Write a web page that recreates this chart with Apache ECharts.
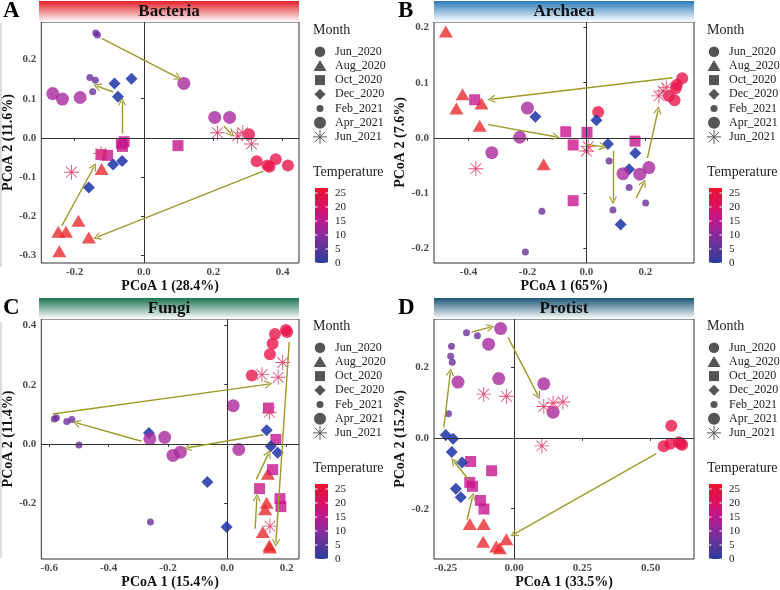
<!DOCTYPE html>
<html>
<head>
<meta charset="utf-8">
<script src="https://cdn.jsdelivr.net/npm/echarts@6/dist/echarts.min.js"></script>
<style>
  html, body { margin: 0; padding: 0; background: #fff; }
  #chart { width: 780px; height: 590px; }
</style>
</head>
<body>
<div id="chart"></div>
<script>
// 月份（图例）和温度色标
var months = ['Jun_2020', 'Aug_2020', 'Oct_2020', 'Dec_2020', 'Feb_2021', 'Apr_2021', 'Jun_2021'];
var tempTicks = [0, 5, 10, 15, 20, 25];

// 点: [PCoA1, PCoA2, 月份序号]
var bacteriaPts = [
    [0.303, 0.009, 0], [0.325, -0.060, 0], [0.356, -0.071, 0], [0.362, -0.074, 0], [0.380, -0.055, 0], [0.415, -0.071, 0],
    [-0.122, -0.080, 1], [-0.189, -0.212, 1], [-0.225, -0.240, 1], [-0.247, -0.240, 1], [-0.159, -0.255, 1], [-0.244, -0.290, 1],
    [-0.065, -0.015, 2], [-0.057, -0.010, 2], [-0.062, -0.022, 2], [-0.124, -0.043, 2], [-0.105, -0.045, 2], [0.098, -0.020, 2],
    [-0.085, 0.139, 3], [-0.036, 0.151, 3], [-0.075, 0.105, 3], [-0.089, -0.068, 3], [-0.063, -0.059, 3], [-0.159, -0.127, 3],
    [-0.139, 0.268, 4], [-0.134, 0.263, 4], [-0.156, 0.154, 4], [-0.140, 0.147, 4], [-0.148, 0.118, 4],
    [-0.263, 0.113, 5], [-0.235, 0.099, 5], [-0.184, 0.103, 5], [0.115, 0.139, 5], [0.204, 0.052, 5], [0.247, 0.052, 5],
    [0.212, 0.013, 6], [0.270, 0.005, 6], [0.285, 0.013, 6], [0.310, -0.016, 6], [-0.124, -0.040, 6], [-0.209, -0.088, 6]
];
var archaeaPts = [
    [0.040, 0.047, 0], [0.325, 0.108, 0], [0.307, 0.096, 0], [0.303, 0.090, 0], [0.280, 0.076, 0], [0.299, 0.068, 0],
    [-0.477, 0.193, 1], [-0.420, 0.079, 1], [-0.441, 0.053, 1], [-0.356, 0.062, 1], [-0.362, 0.022, 1], [-0.145, -0.048, 1],
    [-0.379, 0.069, 2], [-0.070, 0.011, 2], [0.002, 0.010, 2], [-0.045, -0.013, 2], [0.165, -0.006, 2], [-0.045, -0.114, 2],
    [-0.173, 0.038, 3], [0.034, 0.032, 3], [0.073, -0.011, 3], [0.166, -0.028, 3], [0.145, -0.057, 3], [0.116, -0.157, 3],
    [0.077, -0.042, 4], [0.145, -0.090, 4], [0.201, -0.118, 4], [0.090, -0.131, 4], [-0.151, -0.133, 4], [-0.207, -0.207, 4],
    [-0.200, 0.054, 5], [-0.226, 0.001, 5], [-0.321, -0.027, 5], [0.124, -0.065, 5], [0.181, -0.066, 5], [0.212, -0.054, 5],
    [-0.375, -0.056, 6], [0.000, -0.024, 6], [0.006, -0.016, 6], [0.246, 0.076, 6], [0.260, 0.085, 6], [0.271, 0.091, 6]
];
var fungiPts = [
    [0.083, 0.231, 0], [0.144, 0.303, 0], [0.153, 0.338, 0], [0.161, 0.371, 0], [0.198, 0.385, 0], [0.202, 0.378, 0],
    [0.137, -0.101, 1], [0.133, -0.199, 1], [0.128, -0.221, 1], [0.120, -0.298, 1], [0.142, -0.343, 1], [0.144, -0.350, 1],
    [0.139, 0.121, 2], [0.164, 0.015, 2], [0.153, -0.087, 2], [0.109, -0.151, 2], [0.178, -0.185, 2], [0.181, -0.212, 2],
    [-0.264, 0.037, 3], [0.133, 0.046, 3], [0.147, -0.008, 3], [0.170, -0.030, 3], [-0.067, -0.129, 3], [-0.002, -0.281, 3],
    [-0.583, 0.084, 4], [-0.576, 0.088, 4], [-0.541, 0.076, 4], [-0.524, 0.082, 4], [-0.500, -0.004, 4], [-0.259, -0.264, 4],
    [-0.261, 0.017, 5], [-0.211, 0.022, 5], [-0.183, -0.039, 5], [-0.158, -0.028, 5], [0.020, 0.129, 5], [0.039, -0.019, 5],
    [0.117, 0.234, 6], [0.172, 0.225, 6], [0.187, 0.275, 6], [0.142, 0.107, 6], [0.144, -0.278, 6]
];
var protistPts = [
    [0.576, 0.034, 0], [0.548, -0.024, 0], [0.572, -0.017, 0], [0.604, -0.013, 0], [0.610, -0.017, 0], [0.616, -0.020, 0],
    [-0.162, -0.243, 1], [-0.111, -0.243, 1], [-0.113, -0.293, 1], [-0.065, -0.307, 1], [-0.052, -0.312, 1], [-0.028, -0.286, 1],
    [-0.159, -0.067, 2], [-0.082, -0.093, 2], [-0.162, -0.126, 2], [-0.152, -0.137, 2], [-0.123, -0.177, 2], [-0.110, -0.201, 2],
    [-0.250, 0.008, 3], [-0.223, -0.003, 3], [-0.228, -0.040, 3], [-0.190, -0.070, 3], [-0.213, -0.144, 3], [-0.195, -0.168, 3],
    [-0.174, 0.296, 4], [-0.134, 0.288, 4], [-0.229, 0.258, 4], [-0.232, 0.230, 4], [-0.226, 0.213, 4], [-0.240, 0.068, 4],
    [-0.049, 0.308, 5], [-0.093, 0.264, 5], [-0.205, 0.157, 5], [-0.056, 0.167, 5], [0.109, 0.152, 5], [0.143, 0.072, 5],
    [-0.111, 0.123, 6], [-0.028, 0.117, 6], [0.109, 0.088, 6], [0.143, 0.098, 6], [0.179, 0.101, 6], [0.102, -0.023, 6]
];

// 箭头: [x1, y1, x2, y2]
var bacteriaArrows = [
    [-0.122, 0.254, 0.098, 0.154], [0.230, 0.030, 0.251, 0.011], [0.344, -0.085, -0.135, -0.254],
    [-0.237, -0.225, -0.144, -0.074], [-0.063, 0.011, -0.063, 0.092], [-0.089, 0.117, -0.135, 0.132]
];
var archaeaArrows = [
    [0.292, 0.109, -0.322, 0.070], [-0.333, 0.024, -0.104, 0.002], [0.000, -0.012, 0.056, -0.016],
    [0.090, -0.024, 0.090, -0.113], [0.169, -0.109, 0.194, -0.082], [0.207, -0.037, 0.243, 0.050]
];
var fungiArrows = [
    [-0.589, 0.101, 0.139, 0.202], [-0.289, 0.009, -0.508, 0.071], [0.122, 0.031, -0.133, -0.013],
    [0.209, 0.344, 0.164, -0.334], [0.098, -0.120, 0.139, -0.033], [0.094, -0.287, 0.100, -0.182]
];
var protistArrows = [
    [-0.257, 0.029, -0.233, 0.185], [-0.156, 0.298, -0.087, 0.312], [-0.022, 0.283, 0.088, 0.119],
    [0.521, -0.045, 0.000, -0.272], [-0.172, -0.232, -0.152, -0.166], [-0.165, -0.119, -0.220, -0.067]
];

// 刻度
var bacteriaXTicks = [-0.2, 0, 0.2, 0.4], bacteriaYTicks = [-0.3, -0.2, -0.1, 0, 0.1, 0.2];
var archaeaXTicks = [-0.4, -0.2, 0, 0.2], archaeaYTicks = [-0.2, -0.1, 0, 0.1, 0.2];
var fungiXTicks = [-0.6, -0.4, -0.2, 0, 0.2], fungiYTicks = [-0.2, 0, 0.2, 0.4];
var protistXTicks = [-0.25, 0, 0.25, 0.5], protistYTicks = [-0.2, 0, 0.2];

var FONT = 'Liberation Serif';
var monthColors = ['#e8174c', '#e82a2e', '#c8168f', '#2238a8', '#6a2f9a', '#a82a9e', '#e0406a'];
var asterisk = 'path://M9.4,0 L10.6,0 L10.6,20 L9.4,20 Z M0,9.4 L20,9.4 L20,10.6 L0,10.6 Z ' +
    'M2.48,3.32 L3.32,2.48 L17.52,16.68 L16.68,17.52 Z M16.68,2.48 L17.52,3.32 L3.32,17.52 L2.48,16.68 Z';
var monthSymbols = ['circle', 'triangle', 'rect', 'diamond', 'circle', 'circle', asterisk];
var monthSizes = [12, [14, 12], 11, 12, 7, 13, 15];
var chevron = 'path://M5,0 L10,9 L8.8,9.8 L5,2.8 L1.2,9.8 L0,9 Z';

var panels = [
    { title: 'Bacteria', letter: 'A', pts: bacteriaPts, arrows: bacteriaArrows, xt: bacteriaXTicks, yt: bacteriaYTicks,
      xName: 'PCoA 1 (28.4%)', yName: 'PCoA 2 (11.6%)', dec: 1,
      grid: { left: 39, top: 22, width: 260, height: 241 }, xr: [-0.296, 0.447], yr: [-0.320, 0.296],
      strip: ['#e21f27', '#ffffff'], legend: [313, 30] },
    { title: 'Archaea', letter: 'B', pts: archaeaPts, arrows: archaeaArrows, xt: archaeaXTicks, yt: archaeaYTicks,
      xName: 'PCoA 1 (65%)', yName: 'PCoA 2 (7.6%)', dec: 1,
      grid: { left: 434, top: 22, width: 260, height: 241 }, xr: [-0.517, 0.365], yr: [-0.227, 0.210],
      strip: ['#2a7bb9', '#ffffff'], legend: [707, 30] },
    { title: 'Fungi', letter: 'C', pts: fungiPts, arrows: fungiArrows, xt: fungiXTicks, yt: fungiYTicks,
      xName: 'PCoA 1 (15.4%)', yName: 'PCoA 2 (11.4%)', dec: 1,
      grid: { left: 39, top: 319, width: 260, height: 240 }, xr: [-0.627, 0.242], yr: [-0.389, 0.422],
      strip: ['#1d7352', '#ffffff'], legend: [313, 326] },
    { title: 'Protist', letter: 'D', pts: protistPts, arrows: protistArrows, xt: protistXTicks, yt: protistYTicks,
      xName: 'PCoA 1 (33.5%)', yName: 'PCoA 2 (15.2%)', dec: 2,
      grid: { left: 434, top: 319, width: 260, height: 240 }, xr: [-0.293, 0.659], yr: [-0.342, 0.335],
      strip: ['#1c5776', '#ffffff'], legend: [707, 326] }
];

var grids = [], xAxes = [], yAxes = [], series = [], graphics = [];

function labelStyle(dec) {
    return {
        fontFamily: FONT, fontWeight: 'bold', fontSize: 11, color: '#4d4d4d',
        formatter: function (v) { return v.toFixed(dec); }
    };
}

// 图例 (Month + Temperature)
function legendGraphics(left, top) {
    var gray = '#555';
    var els = [];
    els.push({ type: 'text', x: left, y: top, style: { text: 'Month', font: '14px "' + FONT + '"', fill: '#222', textVerticalAlign: 'middle' } });
    months.forEach(function (m, i) {
        var cx = left + 7, cy = top + 21.7 + i * 14.2;
        if (i === 0) els.push({ type: 'circle', shape: { cx: cx, cy: cy, r: 5.3 }, style: { fill: gray } });
        if (i === 1) els.push({ type: 'polygon', shape: { points: [[cx, cy - 6], [cx + 6.5, cy + 5], [cx - 6.5, cy + 5]] }, style: { fill: gray } });
        if (i === 2) els.push({ type: 'rect', shape: { x: cx - 5, y: cy - 5, width: 10, height: 10 }, style: { fill: gray } });
        if (i === 3) els.push({ type: 'polygon', shape: { points: [[cx, cy - 5.5], [cx + 5.5, cy], [cx, cy + 5.5], [cx - 5.5, cy]] }, style: { fill: gray } });
        if (i === 4) els.push({ type: 'circle', shape: { cx: cx, cy: cy, r: 3.5 }, style: { fill: gray } });
        if (i === 5) els.push({ type: 'circle', shape: { cx: cx, cy: cy, r: 6 }, style: { fill: gray } });
        if (i === 6) {
            [[7, 0], [0, 7], [5, 5], [5, -5]].forEach(function (d) {
                els.push({ type: 'line', shape: { x1: cx - d[0], y1: cy - d[1], x2: cx + d[0], y2: cy + d[1] }, style: { stroke: gray, lineWidth: 1 } });
            });
        }
        els.push({ type: 'text', x: left + 22, y: cy, style: { text: m, font: '12px "' + FONT + '"', fill: '#222', textVerticalAlign: 'middle' } });
    });
    els.push({ type: 'text', x: left, y: top + 142, style: { text: 'Temperature', font: '14px "' + FONT + '"', fill: '#222', textVerticalAlign: 'middle' } });
    var bx = left + 2, bw = 13, bBottom = top + 233, bTop = top + 158;
    els.push({
        type: 'rect', shape: { x: bx, y: bTop, width: bw, height: bBottom - bTop },
        style: {
            fill: new echarts.graphic.LinearGradient(0, 1, 0, 0, [
                { offset: 0, color: '#2b3d9d' }, { offset: 0.19, color: '#5a3598' },
                { offset: 0.38, color: '#8a2a9a' }, { offset: 0.56, color: '#bb1a8e' },
                { offset: 0.75, color: '#dd1064' }, { offset: 1, color: '#e8132c' }
            ])
        }
    });
    tempTicks.forEach(function (t) {
        var ty = bBottom - t * 2.8;
        els.push({ type: 'line', shape: { x1: bx, y1: ty, x2: bx + 2.5, y2: ty }, style: { stroke: '#fff', lineWidth: 1 } });
        els.push({ type: 'line', shape: { x1: bx + bw - 2.5, y1: ty, x2: bx + bw, y2: ty }, style: { stroke: '#fff', lineWidth: 1 } });
        els.push({ type: 'text', x: left + 22, y: ty, style: { text: String(t), font: '11px "' + FONT + '"', fill: '#222', textVerticalAlign: 'middle' } });
    });
    return els;
}

panels.forEach(function (p, i) {
    grids.push({ left: p.grid.left, top: p.grid.top, width: p.grid.width, height: p.grid.height,
        show: true, borderColor: '#333', borderWidth: 1, backgroundColor: 'transparent' });
    xAxes.push({
        gridIndex: i, type: 'value', min: p.xr[0], max: p.xr[1],
        splitLine: { show: false },
        axisLine: { show: false },
        axisTick: { show: true, length: 3, customValues: p.xt, lineStyle: { color: '#333' } },
        axisLabel: Object.assign({ customValues: p.xt, margin: 4 }, labelStyle(p.dec)),
        name: p.xName, nameLocation: 'middle', nameGap: 13,
        nameTextStyle: { fontFamily: FONT, fontWeight: 'bold', fontSize: 14, color: '#111' }
    });
    yAxes.push({
        gridIndex: i, type: 'value', min: p.yr[0], max: p.yr[1],
        splitLine: { show: false },
        axisLine: { show: false },
        axisTick: { show: true, length: 3, customValues: p.yt, lineStyle: { color: '#333' } },
        axisLabel: Object.assign({ customValues: p.yt, margin: 5 }, labelStyle(1)),
        name: p.yName, nameLocation: 'middle', nameGap: 21,
        nameTextStyle: { fontFamily: FONT, fontWeight: 'bold', fontSize: 14, color: '#111' }
    });

    months.forEach(function (m, k) {
        var s = {
            name: m, type: 'scatter', xAxisIndex: i, yAxisIndex: i,
            symbol: monthSymbols[k], symbolSize: monthSizes[k],
            itemStyle: { color: monthColors[k], opacity: k === 6 ? 0.9 : (k === 3 ? 0.88 : 0.8) },
            emphasis: { disabled: true },
            data: p.pts.filter(function (d) { return d[2] === k; }).map(function (d) { return [d[0], d[1]]; })
        };
        if (k === 0) {
            // 零线
            s.markLine = {
                silent: true, symbol: ['none', 'none'], label: { show: false },
                lineStyle: { color: '#333', width: 1, type: 'solid' },
                data: [{ xAxis: 0 }, { yAxis: 0 }]
            };
        }
        series.push(s);
    });
    series.push({
        type: 'lines', coordinateSystem: 'cartesian2d', xAxisIndex: i, yAxisIndex: i,
        symbol: ['none', chevron], symbolSize: [7, 8], silent: true, z: 5,
        lineStyle: { color: '#9d9a2b', width: 1.4, opacity: 1, curveness: 0 },
        data: p.arrows.map(function (a) { return { coords: [[a[0], a[1]], [a[2], a[3]]] }; })
    });

    // 标题条
    graphics.push({
        type: 'rect', shape: { x: p.grid.left, y: p.grid.top - 21, width: p.grid.width, height: 21 },
        style: { fill: new echarts.graphic.LinearGradient(0, 0, 0, 1, [{ offset: 0, color: p.strip[0] }, { offset: 1, color: p.strip[1] }]) }
    });
    graphics.push({
        type: 'text', x: p.grid.left + p.grid.width / 2, y: p.grid.top - 10,
        style: { text: p.title, font: 'bold 17px "' + FONT + '"', fill: '#111', textAlign: 'center', textVerticalAlign: 'middle' }
    });
    graphics.push({
        type: 'text', x: p.grid.left - 36, y: p.grid.top - 11,
        style: { text: p.letter, font: 'bold 23px "' + FONT + '"', fill: '#000', textVerticalAlign: 'middle' }
    });
    graphics = graphics.concat(legendGraphics(p.legend[0], p.legend[1]));
});

// 左侧灰线
graphics.push({ type: 'rect', shape: { x: 0, y: 23, width: 2, height: 244 }, style: { fill: '#dcdcdc' } });
graphics.push({ type: 'rect', shape: { x: 0, y: 322, width: 2, height: 236 }, style: { fill: '#dcdcdc' } });

var myChart = echarts.init(document.getElementById('chart'));
var option = {
    animation: false,
    backgroundColor: '#fff',
    grid: grids,
    xAxis: xAxes,
    yAxis: yAxes,
    series: series,
    graphic: { elements: graphics }
};
myChart.setOption(option);
</script>
</body>
</html>
